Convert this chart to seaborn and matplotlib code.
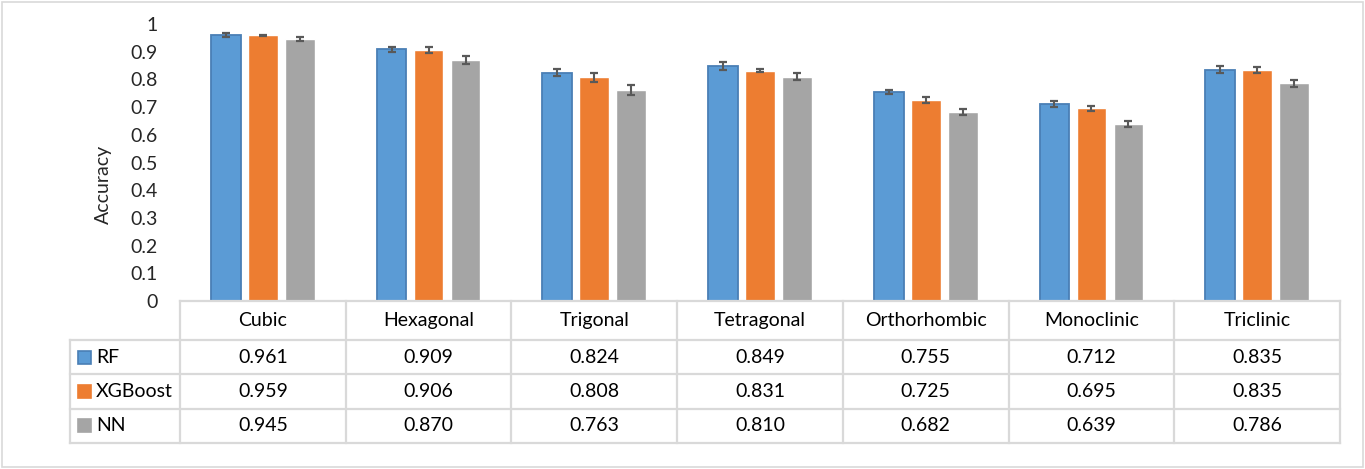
import matplotlib
matplotlib.use("Agg")
import matplotlib.pyplot as plt
import matplotlib.transforms as mtransforms
from matplotlib.patches import Rectangle
import pandas as pd
import seaborn as sns

# Data
structures = ["Cubic", "Hexagonal", "Trigonal", "Tetragonal",
              "Orthorhombic", "Monoclinic", "Triclinic"]
models = ["RF", "XGBoost", "NN"]
rf_acc = [0.961, 0.909, 0.824, 0.849, 0.755, 0.712, 0.835]
xgb_acc = [0.959, 0.906, 0.808, 0.831, 0.725, 0.695, 0.835]
nn_acc = [0.945, 0.870, 0.763, 0.810, 0.682, 0.639, 0.786]
rf_err = [0.008, 0.009, 0.012, 0.015, 0.006, 0.010, 0.013]
xgb_err = [0.003, 0.012, 0.016, 0.006, 0.010, 0.010, 0.011]
nn_err = [0.008, 0.016, 0.018, 0.013, 0.011, 0.010, 0.013]
yticks = [0, 0.1, 0.2, 0.3, 0.4, 0.5, 0.6, 0.7, 0.8, 0.9, 1]
ytick_labels = ["0", "0.1", "0.2", "0.3", "0.4", "0.5", "0.6", "0.7", "0.8", "0.9", "1"]

colours = {"RF": "#5B9BD5", "XGBoost": "#ED7D31", "NN": "#A5A5A5"}
grid_col = "#D9D9D9"

sns.set_style("white")
plt.rcParams["font.family"] = ["Lato", "DejaVu Sans"]
FS = 14

acc = {"RF": rf_acc, "XGBoost": xgb_acc, "NN": nn_acc}
err = {"RF": rf_err, "XGBoost": xgb_err, "NN": nn_err}
df = pd.DataFrame({
    "Structure": structures * 3,
    "Model": [m for m in models for _ in structures],
    "Accuracy": rf_acc + xgb_acc + nn_acc,
})

W, H = 1365, 469
fig = plt.figure(figsize=(W / 100, H / 100), dpi=100)
ax = fig.add_axes([180 / W, (H - 301) / H, 1160 / W, 277 / H])

sns.barplot(data=df, x="Structure", y="Accuracy", hue="Model",
            order=structures, hue_order=models, palette=colours,
            width=0.67, gap=0.2, errorbar=None, saturation=1, ax=ax)
ax.legend_.remove()

# error bars and RF outline
for model, cont in zip(models, ax.containers):
    xs = [p.get_x() + p.get_width() / 2 for p in cont.patches]
    ys = [p.get_height() for p in cont.patches]
    ax.errorbar(xs, ys, yerr=err[model], fmt="none", ecolor="#595959",
                elinewidth=1.5, capsize=3, capthick=1.6, zorder=5)
    if model == "RF":
        for p in cont.patches:
            p.set_edgecolor("#4A7FB5")
            p.set_linewidth(1.3)

ax.set_ylim(0, 1)
ax.set_xlim(-0.5, len(structures) - 0.5)
ax.set_yticks(yticks)
ax.set_yticklabels(ytick_labels, fontsize=FS)
ax.tick_params(axis="y", length=0, pad=16)
ax.tick_params(axis="x", length=0, labelbottom=False)
ax.set_xlabel("")
ax.set_ylabel("Accuracy", fontsize=FS, labelpad=14)
ax.yaxis.set_label_coords(-0.059, 0.42)
for s in ax.spines.values():
    s.set_visible(False)

# data table below the axes (x in categories, y in axes fraction)
trans = mtransforms.blended_transform_factory(ax.transData, ax.transAxes)
head_h = 39 / 277
row_h = 34.3 / 277
x_left = -0.5 - 110 / 165.7
x_right = len(structures) - 0.5
ys_lines = [-head_h - i * row_h for i in range(4)]
lkw = dict(color=grid_col, lw=1.6, transform=trans, clip_on=False, solid_capstyle="projecting")
ax.plot([-0.5, x_right], [0, 0], **lkw)
for yl in ys_lines:
    ax.plot([x_left, x_right], [yl, yl], **lkw)
for k in range(len(structures) + 1):
    ax.plot([k - 0.5, k - 0.5], [0, ys_lines[-1]], **lkw)
ax.plot([x_left, x_left], [ys_lines[0], ys_lines[-1]], **lkw)

for i, s in enumerate(structures):
    ax.text(i, -head_h / 2, s, transform=trans, ha="center", va="center",
            fontsize=FS, color="black")
for r, model in enumerate(models):
    yc = -head_h - (r + 0.5) * row_h
    for i in range(len(structures)):
        ax.text(i, yc, f"{acc[model][i]:.3f}", transform=trans,
                ha="center", va="center", fontsize=FS, color="black")
    # legend key inside the row header
    ypx = 301 + 39 + (r + 0.5) * 34.3
    edge = "#4A7FB5" if model == "RF" else colours[model]
    fig.patches.append(Rectangle((78 / W, (H - ypx - 6.5) / H), 13 / W, 13 / H,
                                 transform=fig.transFigure, facecolor=colours[model],
                                 edgecolor=edge, lw=1.2))
    fig.text(96 / W, (H - ypx) / H, model, ha="left", va="center",
             fontsize=FS, color="black")

# outer chart border
fig.patches.append(Rectangle((2 / W, 2 / H), (W - 4) / W, (H - 4) / H,
                             transform=fig.transFigure, fill=False,
                             edgecolor=grid_col, lw=1.2))

fig.savefig("out.png", dpi=100)
